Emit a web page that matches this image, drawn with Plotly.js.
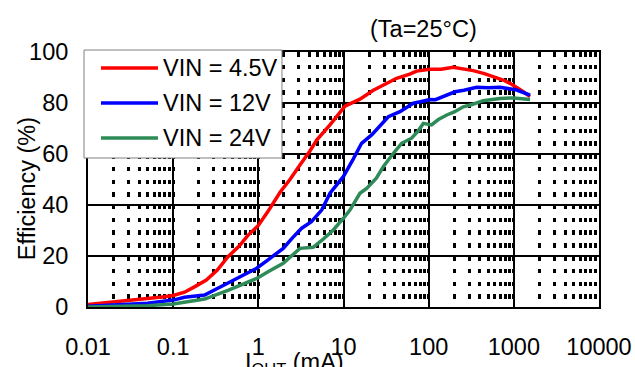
<!DOCTYPE html>
<html>
<head>
<meta charset="utf-8">
<script src="https://cdn.plot.ly/plotly-3.0.1.min.js"></script>
<style>html,body{margin:0;padding:0;background:#fff;}#chart{width:635px;height:367px;}</style>
</head>
<body>
<div id="chart"></div>
<script>
const seriesNames = ["VIN = 4.5V", "VIN = 12V", "VIN = 24V"];
const seriesColors = ["#ff0000", "#0000ff", "#2e8b57"];

const x45 = [0.01, 0.02, 0.04, 0.079, 0.1, 0.136, 0.18, 0.245, 0.33, 0.44, 0.6, 0.75, 1.0, 1.3, 1.8, 2.35, 3.08, 4.0, 4.84, 6.94, 10.4, 15.6, 22.4, 30, 42, 60, 72, 103, 140, 194, 250, 334, 450, 574, 750, 902, 1100, 1294, 1550];
const y45 = [1.0, 2.0, 2.8, 4.0, 4.5, 5.8, 8.0, 10.6, 14.5, 19.7, 24, 28, 32, 37.5, 45, 50, 55.7, 61, 65.5, 71.4, 78.8, 81.5, 85, 87.2, 89.7, 91.3, 92.5, 93.2, 93.2, 94, 93.5, 92.7, 91.5, 90.3, 89, 87.7, 86, 84.4, 82.5];

const x12 = [0.01, 0.03, 0.05, 0.1, 0.136, 0.234, 0.3, 0.44, 0.7, 0.957, 1.3, 1.96, 2.5, 3.23, 4.2, 5.54, 6.94, 9.95, 13, 16.3, 21.4, 27, 33.6, 46, 66, 80, 103, 120, 148.6, 204, 260, 366, 500, 687, 1080, 1300, 1550];
const y12 = [0.3, 0.9, 1.5, 2.7, 3.8, 4.7, 6.5, 9.3, 13, 15.2, 18.5, 23, 27, 30.9, 33.5, 38, 44.6, 51.1, 58, 64.2, 67.5, 71, 74.6, 76.6, 79.9, 80.5, 81.4, 81.3, 82.5, 84.4, 85, 86.2, 86, 86.2, 85.1, 84, 83.1];

const x24 = [0.01, 0.05, 0.1, 0.136, 0.234, 0.44, 0.957, 1.3, 1.96, 3.08, 4.4, 5.5, 7.6, 10, 11.9, 15.6, 18.7, 24.3, 29.3, 38, 48.1, 63, 75, 86.5, 108, 130, 163, 200, 255, 330, 437, 687, 1000, 1550];
const y24 = [0.0, 0.5, 1.2, 2.0, 3.1, 6.5, 11.2, 13.8, 17.1, 23, 23.4, 26, 30.2, 34.8, 38, 44.6, 46.5, 50.5, 55, 60, 64.2, 66.2, 69, 72, 71.4, 73.5, 75.3, 76.5, 78.5, 79.5, 80.9, 81.8, 82, 81.4];

const xTickVals = [0.01, 0.1, 1, 10, 100, 1000, 10000];
const xTickText = ["0.01", "0.1", "1", "10", "100", "1000", "10000"];
const yTickVals = [0, 20, 40, 60, 80, 100];

const FONT = "Liberation Sans, Arial, sans-serif";
const FS = 23.5;
const xs = [x45, x12, x24];
const ys = [y45, y12, y24];

const traces = seriesNames.map((n, i) => ({
  x: xs[i], y: ys[i], name: n, type: "scatter", mode: "lines",
  showlegend: false,
  line: {color: seriesColors[i], width: 3.5}
}));

// custom legend (box, line samples, labels) in paper coordinates
const legendRows = [0.9373, 0.8, 0.6627];
const shapes = [
  {type: "rect", xref: "paper", yref: "paper", x0: -0.0078, x1: 0.3796, y0: 0.5843, y1: 1.0078,
   fillcolor: "#fff", line: {color: "#808080", width: 1}, layer: "above"}
];
const annotations = [];
seriesNames.forEach((n, i) => {
  shapes.push({type: "line", xref: "paper", yref: "paper", x0: 0.0254, x1: 0.137, y0: legendRows[i], y1: legendRows[i],
    line: {color: seriesColors[i], width: 3.5}, layer: "above"});
  annotations.push({text: n, xref: "paper", yref: "paper", x: 0.143, y: legendRows[i], xanchor: "left", yanchor: "middle",
    showarrow: false, font: {family: FONT, size: FS, color: "#000"}});
});
annotations.push(
  {text: "(Ta=25°C)", xref: "paper", yref: "paper", x: 0.657, y: 1.09, xanchor: "center", yanchor: "middle", showarrow: false, font: {family: FONT, size: FS, color: "#000"}},
  {text: "I<sub>OUT</sub> (mA)", xref: "paper", yref: "paper", x: 0.405, y: -0.155, xanchor: "center", yanchor: "top", showarrow: false, font: {family: FONT, size: FS, color: "#000"}},
  {text: "Efficiency (%)", xref: "paper", yref: "paper", x: -0.119, y: 0.463, xanchor: "center", yanchor: "middle", textangle: -90, showarrow: false, font: {family: FONT, size: FS, color: "#000"}}
);

const layout = {
  width: 635, height: 367,
  margin: {l: 88, r: 36, t: 52, b: 60},
  paper_bgcolor: "#fff", plot_bgcolor: "#fff",
  font: {family: FONT, size: FS, color: "#000"},
  showlegend: false,
  xaxis: {
    type: "log", range: [-2, 4],
    tickmode: "array", tickvals: xTickVals, ticktext: xTickText,
    ticks: "", ticklabelstandoff: 18,
    showgrid: true, gridcolor: "#000", gridwidth: 2,
    showline: true, linecolor: "#000", linewidth: 2, mirror: true,
    zeroline: false,
    tickfont: {family: FONT, size: FS, color: "#000"},
    minor: {dtick: "D1", showgrid: true, gridcolor: "#000", gridwidth: 3, griddash: "4.5px,8.25px", ticks: ""}
  },
  yaxis: {
    range: [0, 100], tickmode: "array", tickvals: yTickVals,
    ticks: "", ticklabelstandoff: 13,
    showgrid: true, gridcolor: "#000", gridwidth: 2,
    showline: true, linecolor: "#000", linewidth: 2, mirror: true,
    zeroline: false,
    tickfont: {family: FONT, size: FS, color: "#000"}
  },
  shapes: shapes,
  annotations: annotations
};

Plotly.newPlot("chart", traces, layout, {staticPlot: true, displayModeBar: false});
</script>
</body>
</html>
